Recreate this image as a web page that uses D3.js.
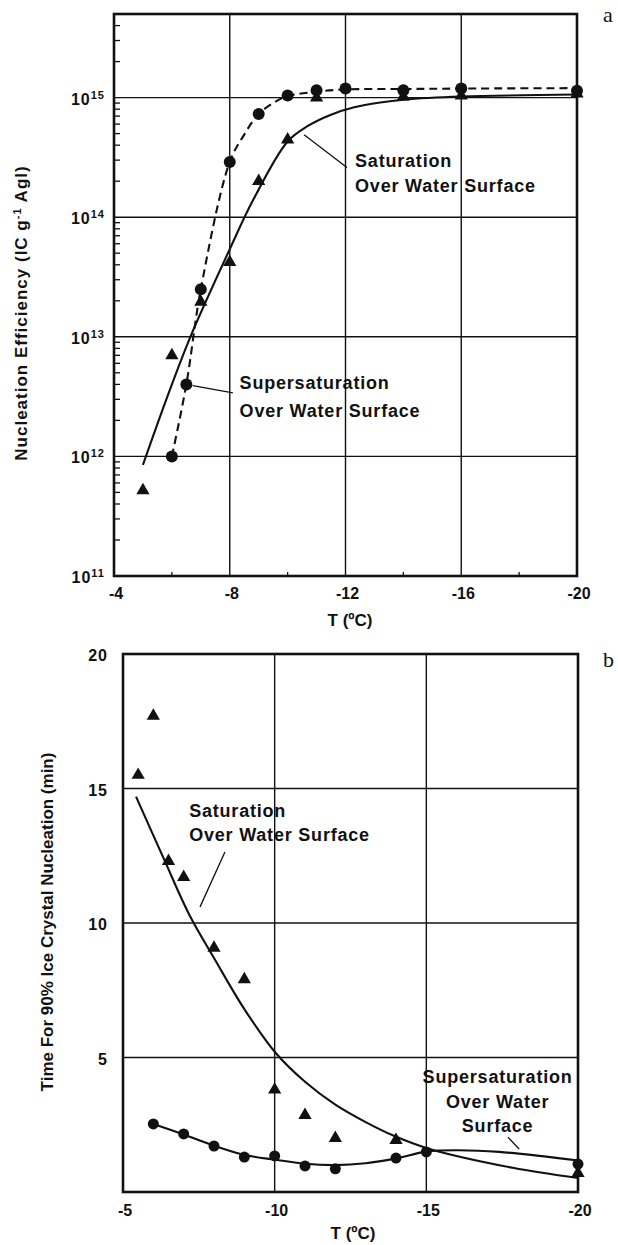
<!DOCTYPE html>
<html>
<head>
<meta charset="utf-8">
<title>Nucleation</title>
<script src="https://d3js.org/d3.v7.min.js"></script>
<style>
body { margin: 0; background: #fff; }
svg text { font-family: "Liberation Sans", Arial, sans-serif; font-weight: bold; fill: #111; }
svg text.panel-id { font-family: "Liberation Serif", "DejaVu Serif", serif; font-weight: normal; }
</style>
</head>
<body>
<svg width="618" height="1245"></svg>
<script>
// ---- panel a : nucleation efficiency ----
var aTicksT = [-4, -8, -12, -16, -20];
var aMinorT = [-6, -10, -14, -18];
var aGridT = [-8, -12, -16];
var aDecades = [11, 12, 13, 14, 15];
var aCircT = [-6, -6.5, -7, -8, -9, -10, -11, -12, -14, -16, -20];
var aCircV = [1e12, 4e12, 2.5e13, 2.9e14, 7.3e14, 1.04e15, 1.15e15, 1.19e15, 1.15e15, 1.19e15, 1.14e15];
var aTriT = [-5, -6, -7, -8, -9, -10, -11, -14, -16, -20];
var aTriV = [5.2e11, 7e12, 1.96e13, 4.2e13, 2e14, 4.45e14, 1e15, 1.02e15, 1.04e15, 1.08e15];
// fitted curves
var aSatLineT = [-5, -5.8, -6.64, -8, -8.82, -10, -10.7, -11.5, -12.3, -13.2, -14, -16, -20];
var aSatLineV = [8.5e11, 2.96e12, 1e13, 5.4e13, 1.41e14, 4.3e14, 5.8e14, 7.2e14, 8.3e14, 9.1e14, 9.6e14, 1.02e15, 1.06e15];
var aSupLineT = [-6, -6.5, -7, -8, -8.5, -9, -9.6, -10, -11, -12, -14, -16, -20];
var aSupLineV = [1e12, 4e12, 2.5e13, 2.9e14, 4.9e14, 7.3e14, 9.3e14, 1.03e15, 1.12e15, 1.17e15, 1.18e15, 1.19e15, 1.2e15];

// ---- panel b : time for 90% nucleation ----
var bTicksT = [-5, -10, -15, -20];
var bGridT = [-10, -15];
var bTicksV = [5, 10, 15, 20];
var bGridV = [5, 10, 15];
var bCircT = [-6, -7, -8, -9, -10, -11, -12, -14, -15, -20];
var bCircV = [2.53, 2.16, 1.71, 1.3, 1.34, 0.97, 0.86, 1.26, 1.49, 1.04];
var bTriT = [-5.5, -6, -6.5, -7, -8, -9, -10, -11, -12, -14, -20];
var bTriV = [15.5, 17.7, 12.3, 11.7, 9.07, 7.9, 3.8, 2.86, 2.0, 1.93, 0.7];
var bSatLineT = [-5.43, -6.34, -7.19, -8, -9, -10.05, -11, -12, -13, -13.95, -15.05, -17.85, -20];
var bSatLineV = [14.7, 12.4, 10.3, 8.7, 6.8, 5.15, 4.1, 3.25, 2.6, 2.08, 1.62, 0.9, 0.52];
var bSupLineT = [-6, -7, -8, -9, -10, -11, -12, -13, -14, -15, -16, -17.4, -20];
var bSupLineV = [2.53, 2.14, 1.72, 1.38, 1.2, 1.05, 1.0, 1.07, 1.25, 1.5, 1.55, 1.49, 1.17];

var svg = d3.select("svg");

var xA = d3.scaleLinear().domain([-4, -20]).range([114, 577]),
	yA = d3.scaleLog().domain([1e11, 5e15]).range([576, 14]);
var xB = d3.scaleLinear().domain([-5, -20]).range([123, 578]),
	yB = d3.scaleLinear().domain([0, 20]).range([1192, 654]);

function zip(a, b) { return a.map(function(d, i) { return [d, b[i]]; }); }

function frame(x, y) {
	var g = svg.append("g");
	g.append("rect")
		.attr("x", x.range()[0]).attr("y", y.range()[1])
		.attr("width", x.range()[1] - x.range()[0])
		.attr("height", y.range()[0] - y.range()[1])
		.attr("fill", "none").attr("stroke", "#111").attr("stroke-width", 2.6);
	return g;
}

function vgrid(g, x, y, vals) {
	g.selectAll(null).data(vals).enter().append("line")
		.attr("x1", function(d) { return x(d); }).attr("x2", function(d) { return x(d); })
		.attr("y1", y.range()[0]).attr("y2", y.range()[1])
		.attr("stroke", "#111").attr("stroke-width", 1.4);
}
function hgrid(g, x, y, vals) {
	g.selectAll(null).data(vals).enter().append("line")
		.attr("y1", function(d) { return y(d); }).attr("y2", function(d) { return y(d); })
		.attr("x1", x.range()[0]).attr("x2", x.range()[1])
		.attr("stroke", "#111").attr("stroke-width", 1.4);
}

function curve(g, x, y, pts, dash) {
	g.append("path")
		.datum(pts)
		.attr("fill", "none").attr("stroke", "#111").attr("stroke-width", 2.1)
		.attr("stroke-dasharray", dash || null)
		.attr("d", d3.line()
			.x(function(d) { return x(d[0]); })
			.y(function(d) { return y(d[1]); })
			.curve(d3.curveCatmullRom.alpha(0.5)));
}

function triangles(g, x, y, pts) {
	g.selectAll(null).data(pts).enter().append("path")
		.attr("transform", function(d) { return "translate(" + x(d[0]) + "," + y(d[1]) + ")"; })
		.attr("d", d3.symbol().type(d3.symbolTriangle).size(76))
		.attr("fill", "#111");
}
function circles(g, x, y, pts, r) {
	g.selectAll(null).data(pts).enter().append("circle")
		.attr("cx", function(d) { return x(d[0]); })
		.attr("cy", function(d) { return y(d[1]); })
		.attr("r", r).attr("fill", "#111");
}

function label(g, x, y, t, v, lines, gap, anchor) {
	var t0 = g.append("text")
		.attr("x", x(t)).attr("y", y(v))
		.attr("text-anchor", anchor || "start")
		.style("font-size", "18px").style("letter-spacing", "0.8px");
	lines.forEach(function(s, i) {
		t0.append("tspan").attr("x", x(t)).attr("dy", i ? gap : 0).text(s);
	});
}
function leader(g, x, y, p) {
	g.append("line")
		.attr("x1", x(p[0][0])).attr("y1", y(p[0][1]))
		.attr("x2", x(p[1][0])).attr("y2", y(p[1][1]))
		.attr("stroke", "#111").attr("stroke-width", 1.3);
}

// ================= panel a =================
var ga = frame(xA, yA);
vgrid(ga, xA, yA, aGridT);
hgrid(ga, xA, yA, aDecades.slice(1).map(function(d) { return Math.pow(10, d); }));

// minor log ticks on the left, pointing inwards
var aMinor = [];
aDecades.forEach(function(d) {
	for (var k = 2; k <= 9; k++) {
		var v = k * Math.pow(10, d);
		if (v < yA.domain()[1]) aMinor.push(v);
	}
});
ga.selectAll(null).data(aMinor).enter().append("line")
	.attr("x1", xA.range()[0]).attr("x2", xA.range()[0] + 6)
	.attr("y1", function(d) { return yA(d); }).attr("y2", function(d) { return yA(d); })
	.attr("stroke", "#111").attr("stroke-width", 1.3);
ga.selectAll(null).data(aMinorT).enter().append("line")
	.attr("x1", function(d) { return xA(d); }).attr("x2", function(d) { return xA(d); })
	.attr("y1", yA.range()[0]).attr("y2", yA.range()[0] - 4)
	.attr("stroke", "#111").attr("stroke-width", 1.3);

curve(ga, xA, yA, zip(aSatLineT, aSatLineV));
curve(ga, xA, yA, zip(aSupLineT, aSupLineV), "8,5");
triangles(ga, xA, yA, zip(aTriT, aTriV));
circles(ga, xA, yA, zip(aCircT, aCircV), 6);

// tick labels
ga.selectAll(null).data(aTicksT).enter().append("text")
	.attr("x", function(d) { return xA(d) + 2; })
	.attr("y", yA.range()[0] + 23)
	.attr("text-anchor", "middle")
	.style("font-size", "16px")
	.text(function(d) { return d; });
var yl = ga.selectAll(null).data(aDecades).enter().append("text")
	.attr("x", 105)
	.attr("y", function(d) { return yA(Math.pow(10, d)) + 7; })
	.attr("text-anchor", "end")
	.style("font-size", "16px").style("letter-spacing", "1px");
yl.append("tspan").text("10");
yl.append("tspan").attr("dy", -6).style("font-size", "11px")
	.text(function(d) { return d; });

ga.append("text")
	.attr("x", 350).attr("y", 626)
	.attr("text-anchor", "middle").style("font-size", "17px")
	.text("T (ºC)");
var ta = ga.append("text")
	.attr("transform", "translate(27,313) rotate(-90)")
	.attr("text-anchor", "middle").style("font-size", "17px").style("letter-spacing", "1px");
ta.append("tspan").text("Nucleation Efficiency (IC g");
ta.append("tspan").attr("dy", -6).style("font-size", "11px").text("-1");
ta.append("tspan").attr("dy", 6).text(" AgI)");

label(ga, xA, yA, -12.33, 2.65e14, ["Saturation", "Over Water Surface"], 25);
leader(ga, xA, yA, [[-10.57, 4.9e14], [-12.05, 2.6e14]]);
label(ga, xA, yA, -8.34, 3.67e12, ["Supersaturation", "Over Water Surface"], 28);
leader(ga, xA, yA, [[-6.72, 3.9e12], [-8.11, 3.4e12]]);

ga.append("text").attr("class", "panel-id")
	.attr("x", 603).attr("y", 22).style("font-size", "22px").text("a");

// ================= panel b =================
var gb = frame(xB, yB);
vgrid(gb, xB, yB, bGridT);
hgrid(gb, xB, yB, bGridV);

curve(gb, xB, yB, zip(bSatLineT, bSatLineV));
curve(gb, xB, yB, zip(bSupLineT, bSupLineV));
triangles(gb, xB, yB, zip(bTriT, bTriV));
circles(gb, xB, yB, zip(bCircT, bCircV), 5.5);

gb.selectAll(null).data(bTicksT).enter().append("text")
	.attr("x", function(d) { return xB(d) + 2; })
	.attr("y", yB.range()[0] + 24)
	.attr("text-anchor", "middle")
	.style("font-size", "16px")
	.text(function(d) { return d; });
gb.selectAll(null).data(bTicksV).enter().append("text")
	.attr("x", 108)
	.attr("y", function(d) { return yB(d) + 7; })
	.attr("text-anchor", "end")
	.style("font-size", "16px").style("letter-spacing", "1px")
	.text(function(d) { return d; });

gb.append("text")
	.attr("x", 353).attr("y", 1239)
	.attr("text-anchor", "middle").style("font-size", "17px")
	.text("T (ºC)");
gb.append("text")
	.attr("transform", "translate(53,922) rotate(-90)")
	.attr("text-anchor", "middle").style("font-size", "17px")
	.text("Time For 90% Ice Crystal Nucleation (min)");

label(gb, xB, yB, -7.18, 13.94, ["Saturation", "Over Water Surface"], 24);
leader(gb, xB, yB, [[-8.36, 12.64], [-7.54, 10.6]]);
label(gb, xB, yB, -17.35, 4.05, ["Supersaturation", "Over Water", "Surface"], 24.5, "middle");
leader(gb, xB, yB, [[-17.69, 2.04], [-18.06, 1.6]]);

gb.append("text").attr("class", "panel-id")
	.attr("x", 603).attr("y", 667).style("font-size", "22px").text("b");
</script>
</body>
</html>
